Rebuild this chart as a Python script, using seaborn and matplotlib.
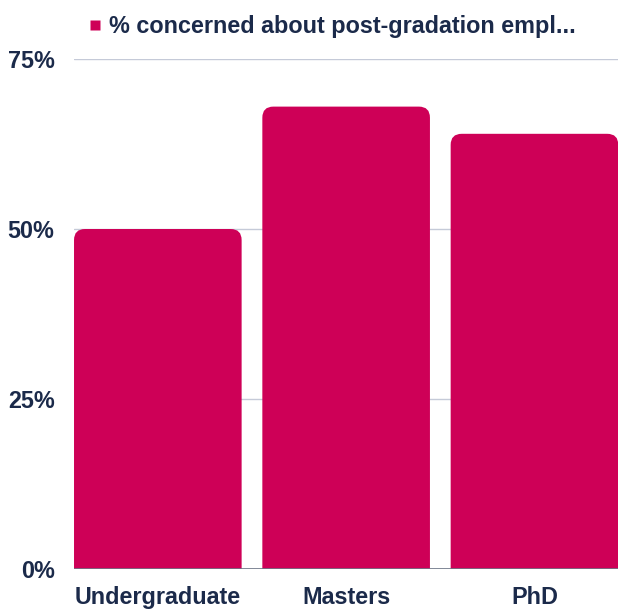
import matplotlib
matplotlib.use("Agg")
import matplotlib.pyplot as plt
import seaborn as sns
import pandas as pd
from matplotlib.patches import FancyBboxPatch
from matplotlib.lines import Line2D
from matplotlib.ticker import FuncFormatter

# data
categories = ['Undergraduate', 'Masters', 'PhD']
concerned_pct = [50, 68, 64]
series_name = '% concerned about post-gradation empl...'

bar_color = '#CE0057'
text_color = '#1B2A4A'

df = pd.DataFrame({'level': categories, 'pct': concerned_pct})

sns.set_style('white')
plt.rcParams['font.family'] = ['Liberation Sans', 'DejaVu Sans']

fig = plt.figure(figsize=(6.22, 6.09), dpi=100)
ax = fig.add_axes([0.119, 0.0657, 0.875, 0.8374])

bar_w = 0.89
sns.barplot(data=df, x='level', y='pct', color=bar_color, width=bar_w,
            saturation=1, ax=ax, zorder=3)

ax.set_ylim(0, 75)
ax.set_xlim(-bar_w / 2, len(categories) - 1 + bar_w / 2)

# swap the plain bars for ones with rounded tops
fig.canvas.draw()
bbox = ax.get_window_extent()
x_per_px = (ax.get_xlim()[1] - ax.get_xlim()[0]) / bbox.width
y_per_px = 75 / bbox.height
r_px = 11
for p in list(ax.patches):
    x, w, h = p.get_x(), p.get_width(), p.get_height()
    p.remove()
    ext = 20 * y_per_px  # push the bottom corners below the axis
    rb = FancyBboxPatch((x, -ext), w, h + ext,
                        boxstyle=f'round,pad=0,rounding_size={r_px * x_per_px}',
                        mutation_aspect=y_per_px / x_per_px,
                        facecolor=bar_color, edgecolor='none', zorder=3,
                        clip_on=True)
    ax.add_patch(rb)

ax.set_yticks([0, 25, 50, 75])
ax.yaxis.set_major_formatter(FuncFormatter(lambda v, _: f'{int(v)}%'))
ax.grid(axis='y', color='#C5CAD8', linewidth=1, zorder=0)
ax.axhline(0, color='#6E7687', linewidth=1.2, zorder=4)
for s in ax.spines.values():
    s.set_visible(False)

fs = 16.8
ax.tick_params(axis='y', length=0, pad=14, labelsize=fs, labelcolor=text_color)
ax.tick_params(axis='x', length=0, pad=12, labelsize=fs, labelcolor=text_color)
for lbl in ax.get_xticklabels() + ax.get_yticklabels():
    lbl.set_fontweight('bold')
ax.set_xlabel('')
ax.set_ylabel('')

handle = Line2D([], [], marker='s', linestyle='none', markersize=7,
                markerfacecolor=bar_color, markeredgecolor='none')
leg = fig.legend([handle], [series_name], loc='center left',
                 bbox_to_anchor=(0.10, 0.957), frameon=False,
                 handletextpad=0.1, handlelength=1.0,
                 prop={'size': fs, 'weight': 'bold'})
for t in leg.get_texts():
    t.set_color(text_color)

fig.savefig('out.png', dpi=100)
